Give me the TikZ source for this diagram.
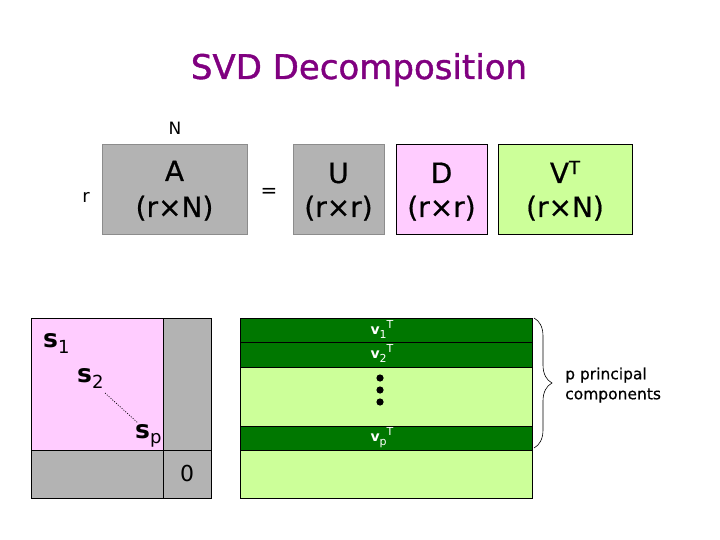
\documentclass[tikz,border=0pt]{standalone}
\usepackage{fontspec}
\setmainfont{DejaVu Sans}
\newfontfamily\heavyfont[FakeBold=1.2]{DejaVu Sans}
\newfontfamily\midfont[FakeBold=0.6]{DejaVu Sans}
\usetikzlibrary{decorations.pathreplacing}
\definecolor{grayfill}{HTML}{B3B3B3}
\definecolor{grayline}{HTML}{8C8C8C}
\definecolor{pinkfill}{HTML}{FFCCFF}
\definecolor{lgreen}{HTML}{CCFF99}
\definecolor{dgreen}{HTML}{007700}
\definecolor{titlepurple}{HTML}{800080}
\newcommand{\fs}[1]{\fontsize{#1}{#1}\selectfont}
\begin{document}
\begin{tikzpicture}[x=1pt,y=-1pt,
  matbox/.style={inner sep=0pt,outer sep=0pt,minimum height=90pt},
  boxtxt/.style={anchor=base,inner sep=0pt,font=\midfont\fs{28}},
  small/.style={anchor=base,inner sep=0pt},
  cell/.style={draw=black,line width=0.6pt},
  vlab/.style={anchor=base,inner sep=0pt,text=white,font=\fs{14}}]
\useasboundingbox (0,0) rectangle (720,540);
\fill[white] (0,0) rectangle (720,540);

% title
\node[anchor=base,inner sep=0pt,text=titlepurple,font=\heavyfont\fs{34}] (title) at (359,79) {SVD Decomposition};

% top row
\node[small,font=\fs{17}] (Nlab) at (175,135) {N};
\node[small,font=\fs{18}] (rlab) at (86,203) {r};
\node[matbox,draw=grayline,fill=grayfill,minimum width=145pt] (A) at (174.5,189) {};
\node[boxtxt] (At1) at (174.5,181) {A};
\node[boxtxt] (At2) at (174.5,217) {(r×N)};
\node[inner sep=0pt,font=\fs{20}] (eq) at (269,193) {=};
\node[matbox,draw=grayline,fill=grayfill,minimum width=91pt] (U) at (338.5,189) {};
\node[boxtxt] (Ut1) at (338.5,183) {U};
\node[boxtxt] (Ut2) at (338.5,217) {(r×r)};
\node[matbox,draw=black,line width=0.6pt,fill=pinkfill,minimum width=91pt] (D) at (441.5,189) {};
\node[boxtxt] (Dt1) at (441.5,183) {D};
\node[boxtxt] (Dt2) at (441.5,217) {(r×r)};
\node[matbox,draw=black,line width=0.6pt,fill=lgreen,minimum width=134pt] (V) at (565,189) {};
\node[boxtxt] (Vt1) at (565,183) {V\raisebox{9pt}{\fs{18}T}};
\node[boxtxt] (Vt2) at (565,217) {(r×N)};

% left matrix D
\filldraw[cell,fill=pinkfill] (31,318) rectangle (163,450);
\filldraw[cell,fill=grayfill] (163,318) rectangle (211,450);
\filldraw[cell,fill=grayfill] (31,450) rectangle (163,498);
\filldraw[cell,fill=grayfill] (163,450) rectangle (211,498);
\node[inner sep=0pt,font=\fs{22}] (zero) at (187,473) {0};
\node[small,anchor=base west,font=\fs{25}\bfseries] (s1) at (43,347) {s\raisebox{-6pt}{\mdseries\fs{18}1}};
\node[small,anchor=base west,font=\fs{25}\bfseries] (s2) at (77,382) {s\raisebox{-6pt}{\mdseries\fs{18}2}};
\node[small,anchor=base west,font=\fs{25}\bfseries] (sp) at (135,438) {s\raisebox{-5pt}{\mdseries\fs{18}p}};
\coordinate (d1) at (105,393);
\coordinate (d2) at (138,423);
\draw[line width=0.7pt,dash pattern=on 1pt off 1.5pt] (d1) -- (d2);

% right matrix V^T
\filldraw[cell,fill=lgreen] (240,318) rectangle (532,498);
\filldraw[cell,fill=dgreen] (240,318) rectangle (532,342);
\filldraw[cell,fill=dgreen] (240,342) rectangle (532,367);
\filldraw[cell,fill=dgreen] (240,426) rectangle (532,450);
\node[vlab] (v1) at (382,334) {\textbf{v}\raisebox{-4pt}{\fs{11}1}\raisebox{6pt}{\fs{11}T}};
\node[vlab] (v2) at (382,358) {\textbf{v}\raisebox{-4pt}{\fs{11}2}\raisebox{6pt}{\fs{11}T}};
\node[vlab] (vp) at (382,441) {\textbf{v}\raisebox{-4pt}{\fs{11}p}\raisebox{6pt}{\fs{11}T}};
\fill (380,378) circle (3.6);
\fill (380,390) circle (3.6);
\fill (380,402) circle (3.6);

% brace
\coordinate (b1) at (534,318);
\coordinate (b2) at (534,448);
\draw[line width=0.6pt,decorate,decoration={brace,amplitude=18pt}] (b1) -- (b2);
\node[anchor=west,align=left,inner sep=0pt,font=\midfont\fontsize{15.5}{20}\selectfont] (pc) at (565,385) {p principal\\components};
\end{tikzpicture}
\end{document}
